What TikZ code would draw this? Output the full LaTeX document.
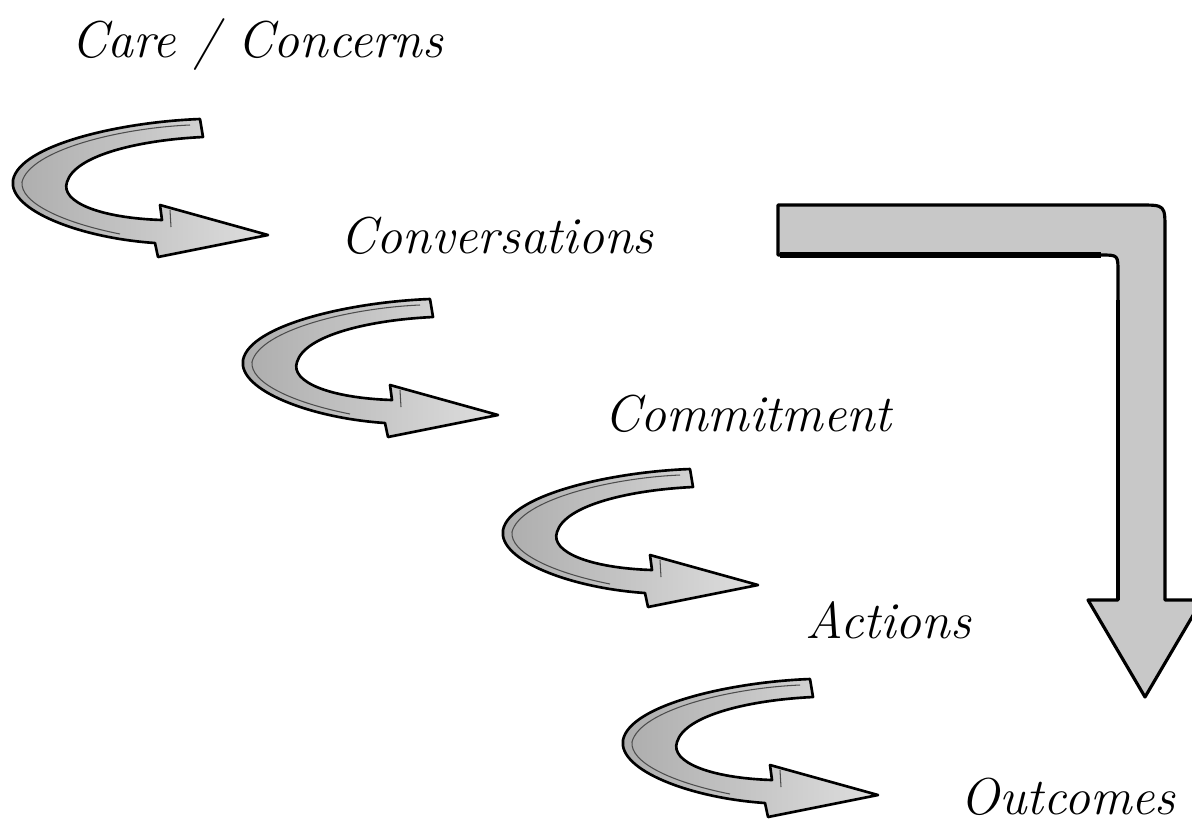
\documentclass[tikz,border=0pt]{standalone}
\usetikzlibrary{positioning}

\definecolor{sketchgray}{RGB}{172,172,172}
\definecolor{palegray}{RGB}{222,222,222}
\definecolor{bargray}{RGB}{200,200,200}

\tikzset{
  stage/.style={font=\fontsize{29.5}{35}\selectfont\itshape, inner sep=0pt},
  outline/.style={draw=black, line width=1.5pt, line join=round},
  curly/.pic={
    % shaft and head in one path
    \path[outline, left color=sketchgray, right color=palegray]
      (200,9) .. controls (120,12) and (20,35) .. (13,70)
      .. controls (8,100) and (80,128) .. (155,133)
      -- (158,147) -- (268,125) -- (160,95) -- (162,110)
      .. controls (100,108) and (60,92) .. (67,72)
      .. controls (75,45) and (140,30) .. (203,27) -- cycle;
    % pencil strokes
    \draw[black!70, line width=0.6pt] (190,15) .. controls (120,18) and (30,40) .. (22,72)
      .. controls (20,92) and (60,112) .. (120,124);
    \draw[black!70, line width=0.6pt] (170,100) -- (171,117);
  }
}

\begin{document}
\begin{tikzpicture}[x=0.02cm, y=-0.02cm]

  \useasboundingbox (0,0) rectangle (1192,823);
  \clip (0,0) rectangle (1192,823);

  % 1. Big bent arrow on the right
  \path[outline, line width=1.8pt, fill=bargray]
    (778,205) -- (1140,205) .. controls (1165,205) .. (1165,230)
    -- (1165,600) -- (1202,600) -- (1145,697) -- (1088,600) -- (1118,600)
    -- (1118,272) .. controls (1118,255) .. (1101,255) -- (778,255) -- cycle;
  \draw[line width=3pt] (780,255) -- (1101,255);
  \draw[line width=2.5pt] (1118,300) -- (1118,600);

  % 2. Curved step arrows
  \pic at (0,110) {curly};
  \pic at (230,290) {curly};
  \pic at (490,460) {curly};
  \pic at (610,670) {curly};

  % 3. Stage labels
  \node[stage] (care) at (257,45) {Care / Concerns};
  \node[stage] (conv) at (497,236) {Conversations};
  \node[stage] (commit) at (748,414) {Commitment};
  \node[stage] (actions) at (888,620) {Actions};
  \node[stage] (outcomes) at (1068,797) {Outcomes};

\end{tikzpicture}
\end{document}
